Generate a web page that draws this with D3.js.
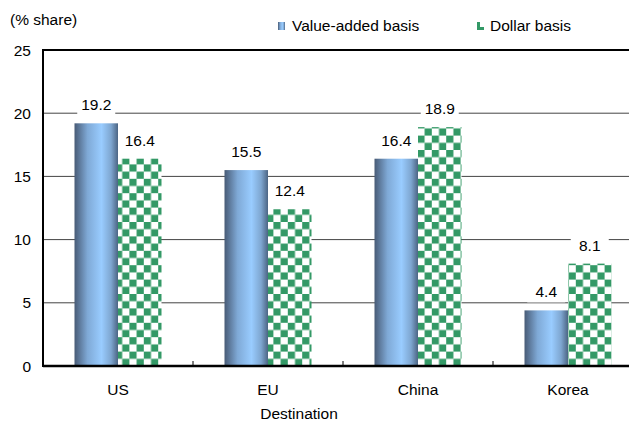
<!DOCTYPE html>
<html>
<head>
<meta charset="utf-8">
<script src="https://cdn.jsdelivr.net/npm/d3@7"></script>
<style>
  body { margin: 0; background: #fff; }
  svg { display: block; font-family: "Liberation Sans", Arial, sans-serif; }
</style>
</head>
<body>
<svg id="chart" width="629" height="426"></svg>
<script>
// ==================== DATA ====================
const categories = ["US", "EU", "China", "Korea"];
const valueAdded = [19.2, 15.5, 16.4, 4.4];
const dollarBasis = [16.4, 12.4, 18.9, 8.1];
const yTicks = [0, 5, 10, 15, 20, 25];

// ==================== SETUP ====================
const svg = d3.select("#chart");
const plotL = 43, plotR = 643, plotT = 50, plotB = 366;
const fs = "15.5px";

const x = d3.scaleBand().domain(categories).range([plotL, plotR]);
const y = d3.scaleLinear().domain([0, 25]).range([plotB, plotT]);
const barW = 43.5;

const defs = svg.append("defs");
const grad = defs.append("linearGradient").attr("id", "blueGrad")
    .attr("x1", "0%").attr("x2", "100%").attr("y1", "0%").attr("y2", "0%");
grad.append("stop").attr("offset", "0%").attr("stop-color", "#485b76");
grad.append("stop").attr("offset", "30%").attr("stop-color", "#7fa9d6");
grad.append("stop").attr("offset", "62%").attr("stop-color", "#99ccff");
grad.append("stop").attr("offset", "84%").attr("stop-color", "#7ea6d0");
grad.append("stop").attr("offset", "100%").attr("stop-color", "#4c6584");

const pat = defs.append("pattern").attr("id", "checker")
    .attr("patternUnits", "userSpaceOnUse").attr("width", 14.4).attr("height", 14.4)
    .attr("x", plotL).attr("y", plotB);
pat.append("rect").attr("width", 14.4).attr("height", 14.4).attr("fill", "#fff");
pat.append("rect").attr("x", 0).attr("y", 0).attr("width", 7.2).attr("height", 7.2).attr("fill", "#339966");
pat.append("rect").attr("x", 7.2).attr("y", 7.2).attr("width", 7.2).attr("height", 7.2).attr("fill", "#339966");

// ==================== GRID ====================
svg.append("g").selectAll("line")
    .data(yTicks.filter(t => t > 0 && t < 25))
    .join("line")
    .attr("x1", plotL).attr("x2", plotR)
    .attr("y1", d => y(d)).attr("y2", d => y(d))
    .attr("stroke", "#444").attr("stroke-width", 1);

// ==================== BARS ====================
const g = svg.append("g");
g.selectAll(".va").data(categories).join("rect")
    .attr("x", d => x(d) + x.bandwidth() / 2 - barW)
    .attr("y", (d, i) => y(valueAdded[i]))
    .attr("width", barW)
    .attr("height", (d, i) => plotB - y(valueAdded[i]))
    .attr("fill", "url(#blueGrad)");

g.selectAll(".db").data(categories).join("rect")
    .attr("x", d => x(d) + x.bandwidth() / 2)
    .attr("y", (d, i) => y(dollarBasis[i]))
    .attr("width", barW)
    .attr("height", (d, i) => plotB - y(dollarBasis[i]))
    .attr("fill", "url(#checker)");

// value labels with white background
function addLabel(cx, v) {
    const ty = y(v) - 13;
    g.append("rect").attr("x", cx - 19).attr("y", ty - 15).attr("width", 38).attr("height", 20).attr("fill", "#fff");
    g.append("text").attr("x", cx).attr("y", ty).attr("text-anchor", "middle")
        .style("font-size", fs).attr("fill", "#000").text(v.toFixed(1));
}
categories.forEach((c, i) => {
    addLabel(x(c) + x.bandwidth() / 2 - barW / 2, valueAdded[i]);
    addLabel(x(c) + x.bandwidth() / 2 + barW / 2, dollarBasis[i]);
});

// ==================== AXES ====================
svg.append("line").attr("x1", plotL).attr("x2", plotR).attr("y1", plotT).attr("y2", plotT)
    .attr("stroke", "#000").attr("stroke-width", 2);
svg.append("line").attr("x1", plotL).attr("x2", plotL).attr("y1", plotT - 1).attr("y2", plotB + 1)
    .attr("stroke", "#000").attr("stroke-width", 2);
svg.append("line").attr("x1", plotL).attr("x2", plotR).attr("y1", plotB).attr("y2", plotB)
    .attr("stroke", "#000").attr("stroke-width", 2.5);

// category tick marks (inward)
svg.append("g").selectAll("line")
    .data(categories.slice(1))
    .join("line")
    .attr("x1", d => x(d)).attr("x2", d => x(d))
    .attr("y1", plotB).attr("y2", plotB - 5)
    .attr("stroke", "#000").attr("stroke-width", 1);

svg.append("g").selectAll("text")
    .data(yTicks).join("text")
    .attr("x", 31).attr("y", d => y(d) + 5.5)
    .attr("text-anchor", "end")
    .style("font-size", fs).text(d => d);

svg.append("g").selectAll("text")
    .data(categories).join("text")
    .attr("x", d => x(d) + x.bandwidth() / 2).attr("y", 395)
    .attr("text-anchor", "middle")
    .style("font-size", fs).text(d => d);

svg.append("text").attr("x", 299).attr("y", 419).attr("text-anchor", "middle")
    .style("font-size", fs).text("Destination");

svg.append("text").attr("x", 10).attr("y", 25)
    .style("font-size", fs).text("(% share)");

// ==================== LEGEND ====================
svg.append("rect").attr("x", 278).attr("y", 22).attr("width", 7).attr("height", 8).attr("fill", "url(#blueGrad)");
svg.append("text").attr("x", 292).attr("y", 31).style("font-size", fs).text("Value-added basis");
const lg = svg.append("g").attr("transform", "translate(477,22)");
lg.append("rect").attr("x", 0).attr("y", 0).attr("width", 3).attr("height", 8).attr("fill", "#339966");
lg.append("rect").attr("x", 0).attr("y", 5).attr("width", 7).attr("height", 3).attr("fill", "#339966");
svg.append("text").attr("x", 490).attr("y", 31).style("font-size", fs).text("Dollar basis");
</script>
</body>
</html>
